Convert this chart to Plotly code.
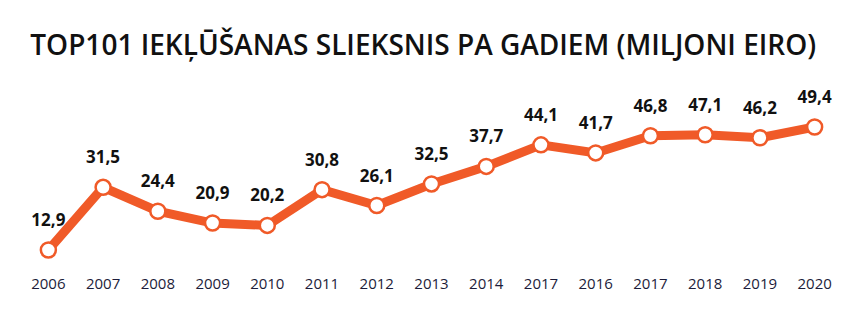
import plotly.graph_objects as go

years = ["2006", "2007", "2008", "2009", "2010", "2011", "2012", "2013", "2014",
         "2017", "2016", "2017", "2018", "2019", "2020"]
values = [12.9, 31.5, 24.4, 20.9, 20.2, 30.8, 26.1, 32.5, 37.7, 44.1, 41.7, 46.8, 47.1, 46.2, 49.4]
labels = [f"{v:.1f}".replace(".", ",") for v in values]
idx = list(range(len(years)))

ORANGE = "#F05A28"

fig = go.Figure()
fig.add_trace(go.Scatter(
    x=idx, y=values, mode="lines+markers",
    line=dict(color=ORANGE, width=9),
    marker=dict(size=15, color="white", line=dict(color=ORANGE, width=2.5)),
    cliponaxis=False, hoverinfo="skip",
))
# labels (transparent larger markers push text further above the points)
fig.add_trace(go.Scatter(
    x=idx, y=values, mode="markers+text",
    marker=dict(size=30, color="rgba(0,0,0,0)"),
    text=labels, textposition="top center",
    textfont=dict(family="Open Sans", size=17, color="#111111", weight="bold"),
    cliponaxis=False, hoverinfo="skip",
))

fig.update_layout(
    width=866, height=325,
    margin=dict(l=21, r=24, t=100, b=55),
    paper_bgcolor="white", plot_bgcolor="white",
    showlegend=False,
    title=dict(text="TOP101 IEKĻŪŠANAS SLIEKSNIS PA GADIEM (MILJONI EIRO)",
               x=0.035, xanchor="left", y=0.86, yanchor="middle",
               font=dict(family="Open Sans", size=28, color="#111111", weight=600)),
    xaxis=dict(range=[-0.5, 14.5], tickmode="array", tickvals=idx, ticktext=years,
               showgrid=False, zeroline=False, showline=False, ticks="",
               ticklabelstandoff=3,
               tickfont=dict(family="Open Sans", size=15, color="#1c1c3a")),
    yaxis=dict(range=[6.97, 57.4], visible=False),
)
fig.write_html("out.html")
